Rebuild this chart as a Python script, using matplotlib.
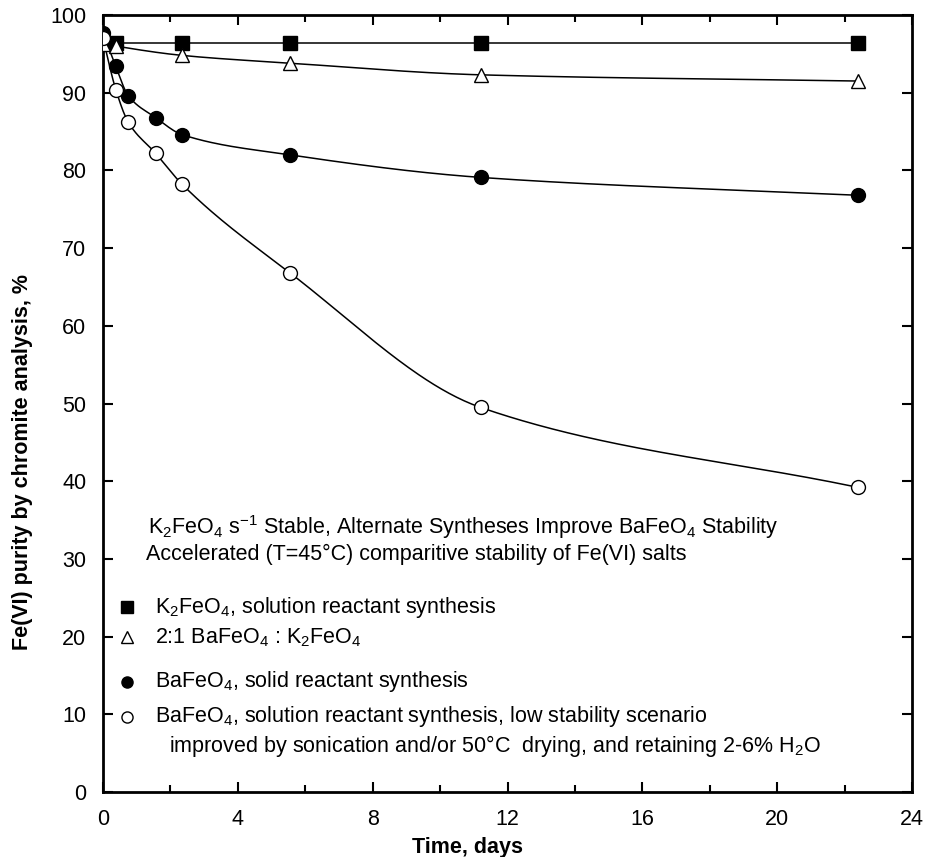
import numpy as np
import matplotlib
matplotlib.use("Agg")
import matplotlib.pyplot as plt

plt.rcParams['font.family'] = ['Liberation Sans', 'DejaVu Sans']
plt.rcParams['mathtext.default'] = 'regular'

# Data
days = [0, 0.38, 0.75, 1.56, 2.35, 5.55, 11.2, 22.4]
days_sq = [0, 0.38, 2.35, 5.55, 11.2, 22.4]
k2feo4 = [96.4, 96.4, 96.4, 96.4, 96.4, 96.4]
mix_21 = [96.3, 96.0, 94.8, 93.8, 92.3, 91.5]
bafeo4_solid = [97.7, 93.4, 89.6, 86.8, 84.6, 82.0, 79.1, 76.8]
bafeo4_soln = [97.0, 90.4, 86.2, 82.2, 78.2, 66.8, 49.5, 39.2]

labels = [r'K$_2$FeO$_4$, solution reactant synthesis',
          r'2:1 BaFeO$_4$ : K$_2$FeO$_4$',
          r'BaFeO$_4$, solid reactant synthesis',
          r'BaFeO$_4$, solution reactant synthesis, low stability scenario']


def pchip(x, y, n=300):
    # monotone cubic curve through the points (for the drawn smooth line)
    x = np.asarray(x, float)
    y = np.asarray(y, float)
    h = np.diff(x)
    d = np.diff(y) / h
    m = np.zeros_like(y)
    for k in range(1, len(x) - 1):
        if d[k - 1] * d[k] > 0:
            w1 = 2 * h[k] + h[k - 1]
            w2 = h[k] + 2 * h[k - 1]
            m[k] = (w1 + w2) / (w1 / d[k - 1] + w2 / d[k])
    m[0] = d[0]
    m[-1] = d[-1]
    xs = np.linspace(x[0], x[-1], n)
    i = np.clip(np.searchsorted(x, xs) - 1, 0, len(x) - 2)
    t = (xs - x[i]) / h[i]
    h00 = 2 * t**3 - 3 * t**2 + 1
    h10 = t**3 - 2 * t**2 + t
    h01 = -2 * t**3 + 3 * t**2
    h11 = t**3 - t**2
    ys = h00 * y[i] + h10 * h[i] * m[i] + h01 * y[i + 1] + h11 * h[i] * m[i + 1]
    return xs, ys


fig = plt.figure(figsize=(9.27, 8.57), dpi=100)
ax = fig.add_axes([103 / 927, 65 / 857, 809 / 927, 777 / 857])

series = [
    (days_sq, k2feo4, dict(marker='s', mfc='black', mec='black', ms=10)),
    (days_sq, mix_21, dict(marker='^', mfc='white', mec='black', ms=10, mew=1.0)),
    (days, bafeo4_solid, dict(marker='o', mfc='black', mec='black', ms=10)),
    (days, bafeo4_soln, dict(marker='o', mfc='white', mec='black', ms=10, mew=1.0)),
]
for x, y, st in series:
    xs, ys = pchip(x, y)
    ax.plot(xs, ys, color='black', lw=1.1, zorder=2)
    ax.plot(x, y, ls='none', zorder=3, **st)

ax.set_xlim(0, 24)
ax.set_ylim(0, 100)
ax.set_xticks(range(0, 25, 4))
ax.set_xticks(range(0, 25, 2), minor=True)
ax.set_yticks(range(0, 101, 10))
ax.tick_params(which='both', direction='in', top=True, right=True, labelsize=15.5, width=1.5)
ax.tick_params(which='major', length=7, pad=12)
ax.tick_params(which='minor', length=5)
for s in ax.spines.values():
    s.set_linewidth(2)

ax.set_xlabel('Time, days', fontsize=15.5, fontweight='bold', va='center')
ax.xaxis.set_label_coords(0.451, -0.072)
ax.set_ylabel('Fe(VI) purity by chromite analysis, %', fontsize=15.5, fontweight='bold', va='center')
ax.yaxis.set_label_coords(-0.1, 0.425)

ax.text(1.33, 34.1, r'K$_2$FeO$_4$ s$^{-1}$ Stable, Alternate Syntheses Improve BaFeO$_4$ Stability',
        fontsize=15.5, va='center')
ax.text(1.28, 30.6, 'Accelerated (T=45°C) comparitive stability of Fe(VI) salts',
        fontsize=15.5, va='center')

leg_y = [23.8, 19.9, 14.2, 9.7]
for (x, y, st), lab, ly in zip(series, labels, leg_y):
    ax.plot([0.71], [ly], ls='none', clip_on=False, **dict(st, ms=8))
    ax.text(1.54, ly, lab, fontsize=15.5, va='center')
ax.text(1.96, 5.9, r'improved by sonication and/or 50°C  drying, and retaining 2-6% H$_2$O',
        fontsize=15.5, va='center')

fig.savefig('out.png', dpi=100)
